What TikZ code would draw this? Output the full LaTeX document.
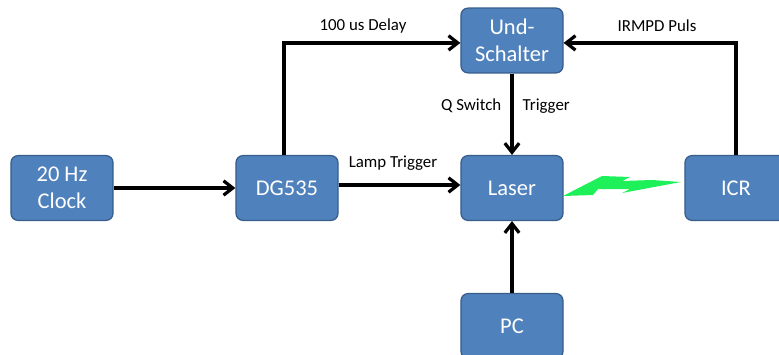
\documentclass[tikz,border=0pt]{standalone}
\usepackage{fontspec}
\setmainfont{Carlito}
\usetikzlibrary{arrows.meta}
\definecolor{unitblue}{RGB}{79,129,189}
\definecolor{unitedge}{RGB}{56,93,138}
\definecolor{boltgreen}{RGB}{30,240,90}
\tikzset{
  unit/.style={draw=unitedge, line width=0.9pt, fill=unitblue,
               minimum width=2.55cm, minimum height=1.62cm,
               rounded corners=5pt, inner sep=2pt, align=center,
               text=white, font=\fontsize{16}{19}\selectfont},
  sig/.style={-{Straight Barb[length=2.3mm,width=3.6mm,line width=2.3pt]},
              line width=2.5pt, black},
  lab/.style={font=\fontsize{12}{14}\selectfont, inner sep=1pt},
}
\begin{document}
\begin{tikzpicture}[x=0.025cm,y=-0.025cm]
  \path[use as bounding box] (0,0) rectangle (779,355);

  % units
  \node[unit] (clock) at (62,188) {20 Hz\\Clock};
  \node[unit] (dg)    at (287,188) {DG535};
  \node[unit] (laser) at (512,188) {Laser};
  \node[unit] (und)   at (512,40.5) {Und-\\Schalter};
  \node[unit] (icr)   at (736,188) {ICR};
  \node[unit] (pc)    at (512,326) {PC};

  % signals
  \draw[sig] (clock.east) -- (dg.east -| dg.west);
  \draw[sig] ([yshift=0.75mm]dg.east) -- ([yshift=0.75mm]laser.west);
  \draw[sig] ([xshift=-0.7mm]dg.north) |- ([yshift=-0.6mm]und.west);
  \draw[sig] (und.south) -- (laser.north);
  \draw[sig] (icr.north) |- ([yshift=-0.6mm]und.east);
  \draw[sig] (pc.north) -- (laser.south);

  % labels
  \node[lab] (delay) at (363,26) {100 us Delay};
  \node[lab] (irmpd) at (657,26) {IRMPD Puls};
  \node[lab] (lamp)  at (393,163) {Lamp Trigger};
  \node[lab, anchor=east] (qsw)  at (503,106) {Q Switch};
  \node[lab, anchor=west] (trig) at (521,106) {Trigger};

  % laser beam
  \fill[boltgreen] (563,196) -- (602,176) -- (630,177) -- (622,181)
    -- (652,180) -- (681,182) -- (622,193) -- (630,189) -- (598,189)
    -- (593,195) -- cycle;
\end{tikzpicture}
\end{document}
